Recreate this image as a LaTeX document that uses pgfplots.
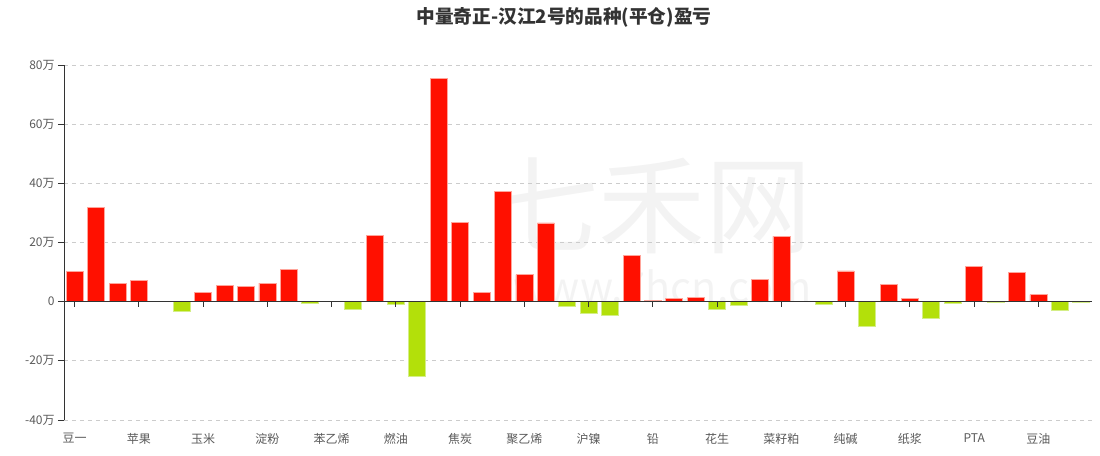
\documentclass[border=0pt]{standalone}
\usepackage{pgfplots}
\pgfplotsset{compat=1.18}
\usepackage{fontspec}
\setmainfont{Noto Sans CJK SC}

\definecolor{barred}{RGB}{255,16,0}
\definecolor{barredline}{RGB}{255,165,155}
\definecolor{bargreen}{RGB}{179,224,10}
\definecolor{bargreenline}{RGB}{212,238,135}
\definecolor{txt}{RGB}{90,90,90}
\definecolor{axisdark}{RGB}{51,51,51}
\definecolor{gridgray}{RGB}{204,204,204}
\definecolor{wm}{RGB}{243,243,243}

% profit / loss per category index (unit: 10k)
\pgfplotstableread{
x y
0 10.2
1 32.0
2 6.2
3 7.1
4 0.1
6 3.1
7 5.6
8 5.2
9 6.3
10 10.9
14 22.4
17 75.4
18 26.7
19 3.0
20 37.4
21 9.1
22 26.6
26 15.7
27 0.4
28 1.1
29 1.5
32 7.5
33 22.1
36 10.4
38 5.8
39 1.1
42 11.8
44 9.8
45 2.4
}\gains
\pgfplotstableread{
x y
5 -3.4
11 -0.6
13 -2.7
15 -1.0
16 -25.1
23 -1.6
24 -3.8
25 -4.8
30 -2.6
31 -1.1
35 -0.9
37 -8.3
40 -5.7
41 -0.5
43 -0.4
46 -3.0
47 -0.4
}\losses

\begin{document}
\begin{tikzpicture}
\path[use as bounding box] (-48pt,-26.25pt) rectangle (777pt,315pt);
% watermark
\node[text=wm,font=\fontsize{80}{80}\selectfont] at (441pt,161pt) {七禾网};
\node[text=wm,font=\fontsize{31}{31}\selectfont,anchor=base] at (449pt,88.5pt) {www.7hcn.com};
\node[text=axisdark,font=\fontsize{14}{16}\selectfont\bfseries] at (375pt,302.25pt) {中量奇正-汉江2号的品种(平仓)盈亏};
\begin{axis}[
    at={(0,0)}, anchor=south west,
    scale only axis,
    width=771pt, height=266.25pt,
    xmin=-0.5, xmax=47.5,
    ymin=-40, ymax=80,
    axis y line*=left,
    axis x line*=bottom,
    x axis line style={draw=none},
    y axis line style={axisdark, line width=0.7pt},
    ytick={-40,-20,0,20,40,60,80},
    yticklabels={-40万,-20万,0,20万,40万,60万,80万},
    xtick={0,3,...,45},
    xticklabels={豆一,苹果,玉米,淀粉,苯乙烯,燃油,焦炭,聚乙烯,沪镍,铅,花生,菜籽粕,纯碱,纸浆,PTA,豆油},
    tick label style={font=\fontsize{9}{10}\selectfont, text=txt},
    xticklabel style={yshift=-2pt},
    yticklabel style={xshift=1pt},
    y tick style={axisdark, line width=0.7pt},
    x tick style={draw=none},
    tick align=outside,
    major tick length=4.5pt,
    ymajorgrids,
    grid style={gridgray, dash pattern=on 3pt off 3pt, line width=0.6pt},
    ybar, bar width=12.75pt,
    clip=false,
]
\addplot[ybar, bar shift=0pt, fill=barred, draw=barredline, line width=0.6pt] table[x=x,y=y] {\gains};
\addplot[ybar, bar shift=0pt, fill=bargreen, draw=bargreenline, line width=0.6pt] table[x=x,y=y] {\losses};
\draw[axisdark, line width=0.75pt] (axis cs:-0.5,0) -- (axis cs:47.5,0);
\pgfplotsinvokeforeach{0,3,...,45}{\draw[axisdark, line width=0.7pt] (axis cs:#1,0) -- ([yshift=-3.75pt]axis cs:#1,0);}
\end{axis}
\end{tikzpicture}
\end{document}
